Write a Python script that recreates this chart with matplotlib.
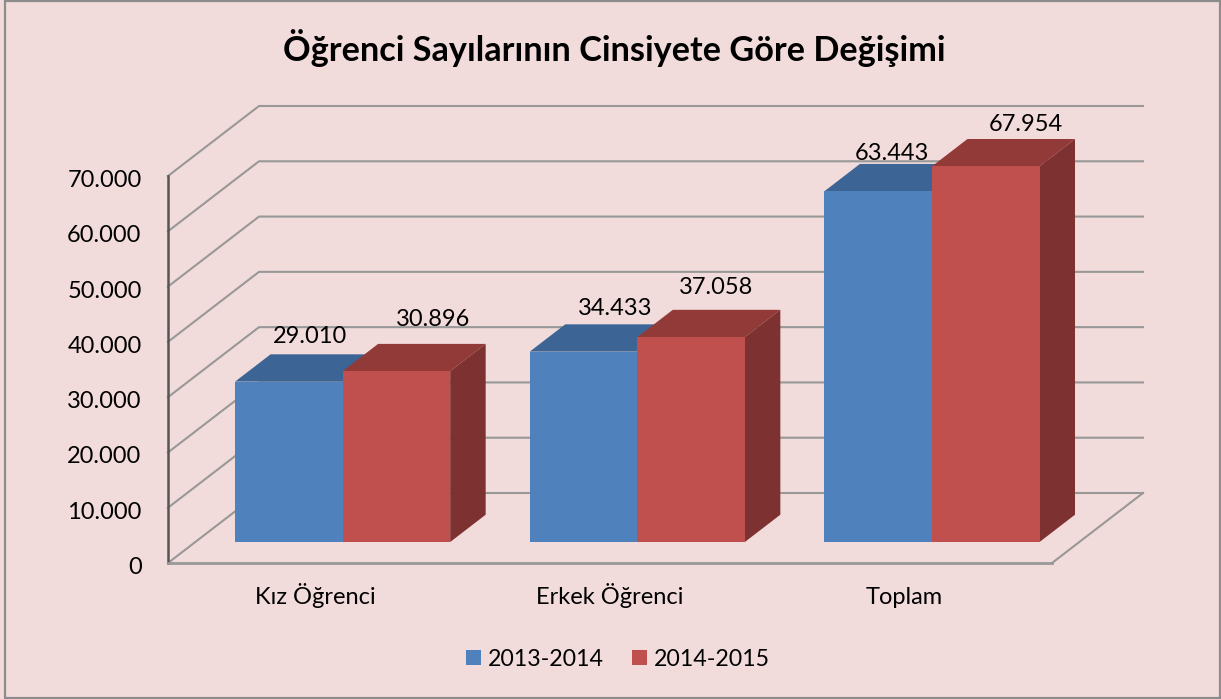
import matplotlib
matplotlib.use('Agg')
import matplotlib.pyplot as plt
from matplotlib.patches import Rectangle
from matplotlib.ticker import FuncFormatter
from matplotlib.transforms import ScaledTranslation

categories = ['Kız Öğrenci', 'Erkek Öğrenci', 'Toplam']
series_names = ['2013-2014', '2014-2015']
values_2013 = [29010, 34433, 63443]
values_2014 = [30896, 37058, 67954]
y_ticks = [0, 10000, 20000, 30000, 40000, 50000, 60000, 70000]

plt.rcParams['font.family'] = ['Lato', 'DejaVu Sans']

W, H = 1221, 699
BG = '#f2dcdb'
GRID = '#989898'
FACES = [('#4f81bd', '#3c6494', '#3c6494'), ('#c0504d', '#913a38', '#7d3130')]

fig = plt.figure(figsize=(W / 100, H / 100), dpi=100, facecolor=BG)
fig.add_artist(Rectangle((5 / W, 1 / H), 1215 / W, 697 / H, transform=fig.transFigure,
                         fc='none', ec='#8c8c8c', lw=1.6))

ax = fig.add_axes([168 / W, (H - 563) / H, 884 / W, 387 / H])
ax.set_xlim(0, 3)
ax.set_ylim(0, 70000)
ax.patch.set_visible(False)

# oblique depth of the chart box, in data units
depth_x = 91 / 884 * 3
depth_y = 70 / 387 * 70000
front_gap = 0.3     # where the bars start inside the depth
bar_depth = 0.39
bar_w = 0.365

# walls and floor lines
for v in y_ticks:
    ax.plot([0, depth_x, 3 + depth_x], [v, v + depth_y, v + depth_y], color=GRID, lw=1.5,
            clip_on=False, zorder=1)
ax.plot([3, 3 + depth_x], [0, depth_y], color=GRID, lw=1.5, clip_on=False, zorder=1)


def draw_bar(x, value, colors, zorder):
    face, top, side = colors
    x0 = x + front_gap * depth_x
    y0 = front_gap * depth_y
    dx = bar_depth * depth_x
    dy = bar_depth * depth_y
    y1 = y0 + value
    x1 = x0 + bar_w
    ax.fill([x0, x1, x1 + dx, x0 + dx], [y1, y1, y1 + dy, y1 + dy], color=top, lw=0,
            clip_on=False, zorder=zorder)
    ax.fill([x1, x1 + dx, x1 + dx, x1], [y0, y0 + dy, y1 + dy, y1], color=side, lw=0,
            clip_on=False, zorder=zorder)
    return ax.bar(x0, value, bar_w, bottom=y0, align='edge', color=face, lw=0,
                  clip_on=False, zorder=zorder)


label_offsets = [(21, 45), (37, 52), (32, 43), (25, 50), (14, 38), (40, 42)]
handles = []
k = 0
for i, cat in enumerate(categories):
    for s, vals in enumerate([values_2013, values_2014]):
        x = i + 0.5 - bar_w + s * bar_w
        b = draw_bar(x, vals[i], FACES[s], 3 + i + s * 0.1)
        if i == 0:
            handles.append(b)
        off = label_offsets[k]
        k += 1
        ax.annotate(f'{vals[i]:,}'.replace(',', '.'),
                    (x + front_gap * depth_x + bar_w / 2, front_gap * depth_y + vals[i]),
                    xytext=off, textcoords='offset pixels', ha='center', va='center',
                    fontsize=17, color='black', zorder=20, annotation_clip=False)

for name in ['top', 'right']:
    ax.spines[name].set_visible(False)
ax.spines['left'].set_color('#555555')
ax.spines['left'].set_linewidth(1.8)
ax.spines['bottom'].set_color(GRID)
ax.spines['bottom'].set_linewidth(2)

ax.set_yticks(y_ticks)
ax.yaxis.set_major_formatter(FuncFormatter(lambda v, p: f'{int(v):,}'.replace(',', '.')))
ax.set_xticks([0.5, 1.5, 2.5])
ax.set_xticklabels(categories)
ax.tick_params(axis='y', length=0, pad=19, labelsize=17)
ax.tick_params(axis='x', length=0, pad=14, labelsize=17)

# same baseline for all category labels, y labels sit a bit low
for lab in ax.get_xticklabels():
    lab.set_va('baseline')
    lab.set_transform(lab.get_transform() + ScaledTranslation(0, -0.22, fig.dpi_scale_trans))
for lab in ax.get_yticklabels():
    lab.set_transform(lab.get_transform() + ScaledTranslation(0, -0.025, fig.dpi_scale_trans))

fig.text(614 / W, 1 - 48 / H, 'Öğrenci Sayılarının Cinsiyete Göre Değişimi', ha='center',
         va='center', fontsize=24.7, fontweight='bold', color='black')

fig.legend(handles, series_names, loc='center', bbox_to_anchor=(618 / W, 1 - 659 / H),
           ncol=2, frameon=False, fontsize=16.7, handlelength=0.65, handleheight=0.65,
           handletextpad=0.3, columnspacing=1.2, borderpad=0)

fig.savefig('out.png', dpi=100, facecolor=BG)
